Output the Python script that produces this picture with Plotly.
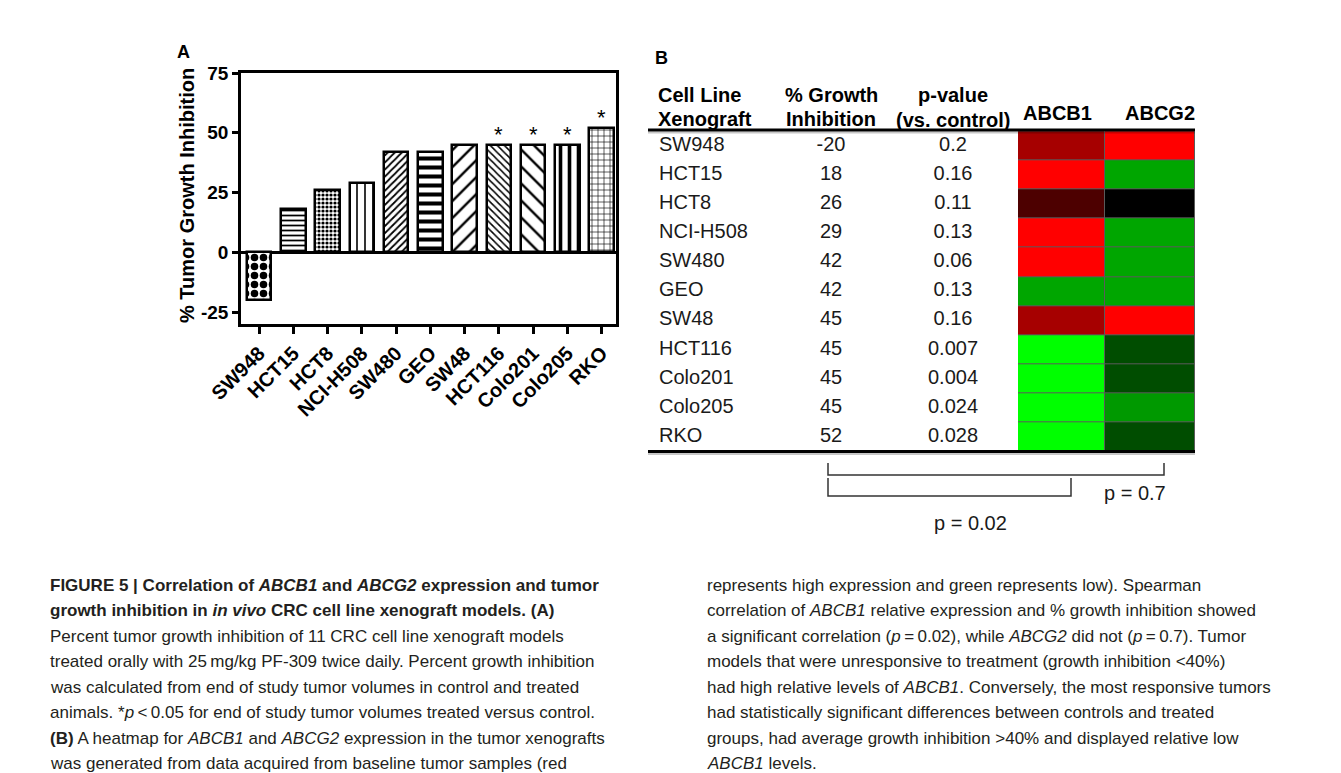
import plotly.graph_objects as go

# ---------------- data ----------------
cell_lines = ["SW948", "HCT15", "HCT8", "NCI-H508", "SW480", "GEO", "SW48",
              "HCT116", "Colo201", "Colo205", "RKO"]
growth_inhibition = [-20, 18, 26, 29, 42, 42, 45, 45, 45, 45, 52]
p_values = ["0.2", "0.16", "0.11", "0.13", "0.06", "0.13", "0.16",
            "0.007", "0.004", "0.024", "0.028"]
significant = [False, False, False, False, False, False, False, True, True, True, True]
# relative expression (red = high, black = mid, green = low)
abcb1_expr = [0.65, 1.0, 0.3, 1.0, 1.0, -0.65, 0.65, -1.0, -1.0, -1.0, -1.0]
abcg2_expr = [1.0, -0.65, 0.0, -0.65, -0.65, -0.65, 1.0, -0.3, -0.3, -0.6, -0.3]
heat_genes = ["ABCB1", "ABCG2"]
y_ticks = [-25, 0, 25, 50, 75]
y_tick_labels = ["-25", "0", "25", "50", "75"]
bracket_labels = ["p = 0.7", "p = 0.02"]

# ---------------- layout helpers ----------------
W, H = 1341, 773
FONT = "Liberation Sans, Arial, sans-serif"


def px(x):
    return x / W


def py(y):
    return 1 - y / H


# bar pattern styles (one per bar)
pat_shape = [".", "-", ".", "|", "/", "-", "/", "\\", "\\", "|", "+"]
pat_size = [9, 5, 4, 8, 5, 9, 12, 5, 12, 9, 6]
pat_solid = [0.55, 0.35, 0.5, 0.2, 0.35, 0.45, 0.2, 0.3, 0.2, 0.4, 0.2]

fig = go.Figure()

fig.add_trace(go.Bar(
    x=cell_lines, y=growth_inhibition, width=0.72,
    marker=dict(color="white", line=dict(color="black", width=2.5),
                pattern=dict(shape=pat_shape, size=pat_size, solidity=pat_solid,
                             fgcolor="black", bgcolor="white", fillmode="replace")),
    xaxis="x", yaxis="y", showlegend=False, hoverinfo="skip"))

annotations = []
for name, val, sig in zip(cell_lines, growth_inhibition, significant):
    if sig:
        annotations.append(dict(x=name, y=val, xref="x", yref="y", text="*",
                                showarrow=False, yanchor="bottom", yshift=-4,
                                font=dict(family=FONT, size=22, color="black")))

# ---------------- table / heatmap (panel B) ----------------
ROW_TOP, ROW_H = 123.3, 29.1
TOP_PX, BOT_PX = 60, 530
rows = list(range(len(cell_lines)))
y2_top = (TOP_PX - ROW_TOP) / ROW_H - 0.5
y2_bot = (BOT_PX - ROW_TOP) / ROW_H - 0.5
TX0, TX1 = 640, 1187
COL_NAME, COL_GROWTH, COL_P = 651, 823, 945
HEAT_EDGES = [1010, 1097, 1187]

fig.add_trace(go.Heatmap(
    z=[[b, g] for b, g in zip(abcb1_expr, abcg2_expr)],
    x=HEAT_EDGES, y=rows,
    colorscale=[[0, "#00ff00"], [0.5, "#000000"], [1, "#ff0000"]],
    zmin=-1, zmax=1, showscale=False, xgap=1, ygap=1,
    xaxis="x2", yaxis="y2", hoverinfo="skip"))

tfont = dict(family=FONT, size=20, color="#1a1a1a")
fig.add_trace(go.Scatter(x=[COL_NAME] * len(rows), y=rows, text=cell_lines, mode="text",
                         textposition="middle right", textfont=tfont,
                         marker=dict(size=1), xaxis="x2", yaxis="y2",
                         showlegend=False, hoverinfo="skip"))
fig.add_trace(go.Scatter(x=[COL_GROWTH] * len(rows), y=rows,
                         text=[str(v) for v in growth_inhibition], mode="text",
                         textposition="middle center", textfont=tfont,
                         xaxis="x2", yaxis="y2", showlegend=False, hoverinfo="skip"))
fig.add_trace(go.Scatter(x=[COL_P] * len(rows), y=rows, text=p_values, mode="text",
                         textposition="middle center", textfont=tfont,
                         xaxis="x2", yaxis="y2", showlegend=False, hoverinfo="skip"))

hfont = dict(family=FONT, size=20, color="black", weight="bold")
headers = [("Cell Line", 648, 87, "left"), ("Xenograft", 648, 111, "left"),
           ("% Growth", COL_GROWTH, 87, "center"), ("Inhibition", COL_GROWTH, 111, "center"),
           ("p-value", COL_P, 87, "center"), ("(vs. control)", COL_P, 112, "center"),
           (heat_genes[0], 1049, 105, "center"), (heat_genes[1], 1152, 105, "center")]
for t, x, y, anc in headers:
    annotations.append(dict(x=px(x), y=py(y), xref="paper", yref="paper", text=t,
                            showarrow=False, xanchor=anc, yanchor="middle", font=hfont))

shapes = []
# gray gap colour behind heatmap
shapes.append(dict(type="rect", xref="x2", yref="y2", x0=HEAT_EDGES[0], x1=HEAT_EDGES[-1],
                   y0=-0.5, y1=len(rows) - 0.5, fillcolor="#5a5a5a", line=dict(width=0),
                   layer="below"))
for yy in (122, 443.5):
    shapes.append(dict(type="line", xref="paper", yref="paper", x0=px(TX0), x1=px(TX1),
                       y0=py(yy + 2.5), y1=py(yy + 2.5), line=dict(color="rgba(0,0,0,0.22)", width=2)))
    shapes.append(dict(type="line", xref="paper", yref="paper", x0=px(TX0), x1=px(TX1),
                       y0=py(yy), y1=py(yy), line=dict(color="black", width=3)))


def bracket(x0, x1, ytop, ybot):
    return dict(type="path", xref="paper", yref="paper",
                path=f"M {px(x0)},{py(ytop)} L {px(x0)},{py(ybot)} L {px(x1)},{py(ybot)} L {px(x1)},{py(ytop)}",
                line=dict(color="#333333", width=1.5))


shapes.append(bracket(820, 1156, 455, 467))
shapes.append(bracket(820, 1063, 470, 488))
pfont = dict(family=FONT, size=20, color="#1a1a1a")
annotations.append(dict(x=px(1127), y=py(485), xref="paper", yref="paper", text=bracket_labels[0],
                        showarrow=False, xanchor="center", yanchor="middle", font=pfont))
annotations.append(dict(x=px(962), y=py(515), xref="paper", yref="paper", text=bracket_labels[1],
                        showarrow=False, xanchor="center", yanchor="middle", font=pfont))

# panel letters
for t, x, y in (("A", 175, 44), ("B", 653, 50)):
    annotations.append(dict(x=px(x), y=py(y), xref="paper", yref="paper", text=t, showarrow=False,
                            xanchor="center", yanchor="middle",
                            font=dict(family=FONT, size=18, color="black", weight="bold")))

# y-axis title of panel A
annotations.append(dict(x=px(179), y=py(188), xref="paper", yref="paper",
                        text="% Tumor Growth Inhibition", textangle=-90, showarrow=False,
                        xanchor="center", yanchor="middle",
                        font=dict(family=FONT, size=20, color="black", weight="bold")))

# ---------------- caption ----------------
left_lines = [
    "<b>FIGURE 5 | Correlation of <i>ABCB1</i> and <i>ABCG2</i> expression and tumor</b>",
    "<b>growth inhibition in <i>in vivo</i> CRC cell line xenograft models. (A)</b>",
    "Percent tumor growth inhibition of 11 CRC cell line xenograft models",
    "treated orally with 25\u2009mg/kg PF-309 twice daily. Percent growth inhibition",
    "was calculated from end of study tumor volumes in control and treated",
    "animals. *<i>p</i>\u2009&lt;\u20090.05 for end of study tumor volumes treated versus control.",
    "<b>(B)</b> A heatmap for <i>ABCB1</i> and <i>ABCG2</i> expression in the tumor xenografts",
    "was generated from data acquired from baseline tumor samples (red",
]
right_lines = [
    "represents high expression and green represents low). Spearman",
    "correlation of <i>ABCB1</i> relative expression and % growth inhibition showed",
    "a significant correlation (<i>p</i>\u2009=\u20090.02), while <i>ABCG2</i> did not (<i>p</i>\u2009=\u20090.7). Tumor",
    "models that were unresponsive to treatment (growth inhibition &lt;40%)",
    "had high relative levels of <i>ABCB1</i>. Conversely, the most responsive tumors",
    "had statistically significant differences between controls and treated",
    "groups, had average growth inhibition &gt;40% and displayed relative low",
    "<i>ABCB1</i> levels.",
]
CAP_Y0, CAP_DY = 577, 25.5
cfont = dict(family=FONT, size=17, color="#231f20")
for col_x, lines in ((40, left_lines), (697, right_lines)):
    for i, t in enumerate(lines):
        annotations.append(dict(x=px(col_x), y=py(CAP_Y0 + CAP_DY * i), xref="paper", yref="paper",
                                text=t, showarrow=False, xanchor="left", yanchor="middle",
                                font=cfont))

axis_font = dict(family=FONT, size=19, color="black", weight="bold")
fig.update_layout(
    width=W, height=H, margin=dict(l=0, r=0, t=0, b=0),
    paper_bgcolor="white", plot_bgcolor="rgba(0,0,0,0)",
    showlegend=False, bargap=0,
    xaxis=dict(domain=[px(233), px(608)], range=[-0.53, 10.42], anchor="y",
               showline=True, linewidth=2.5, linecolor="black", mirror=True,
               ticks="outside", ticklen=7, tickwidth=2.5, tickcolor="black",
               tickangle=-45, tickfont=dict(family=FONT, size=20, color="black", weight="bold"),
               showgrid=False, zeroline=False, automargin=False, fixedrange=True),
    yaxis=dict(domain=[py(316), py(65)], range=[-30, 75], anchor="x",
               tickvals=y_ticks, ticktext=y_tick_labels,
               showline=True, linewidth=2.5, linecolor="black", mirror=True,
               ticks="outside", ticklen=6, tickwidth=2.5, tickcolor="black",
               tickfont=axis_font, showgrid=False, zeroline=True, zerolinewidth=2.5,
               zerolinecolor="black", automargin=False, fixedrange=True),
    xaxis2=dict(domain=[px(TX0), px(TX1)], range=[TX0, TX1], anchor="y2", visible=False,
                automargin=False),
    yaxis2=dict(domain=[py(BOT_PX), py(TOP_PX)], range=[y2_bot, y2_top], anchor="x2",
                visible=False, automargin=False),
    annotations=annotations, shapes=shapes,
)

fig.write_html("out.html")
